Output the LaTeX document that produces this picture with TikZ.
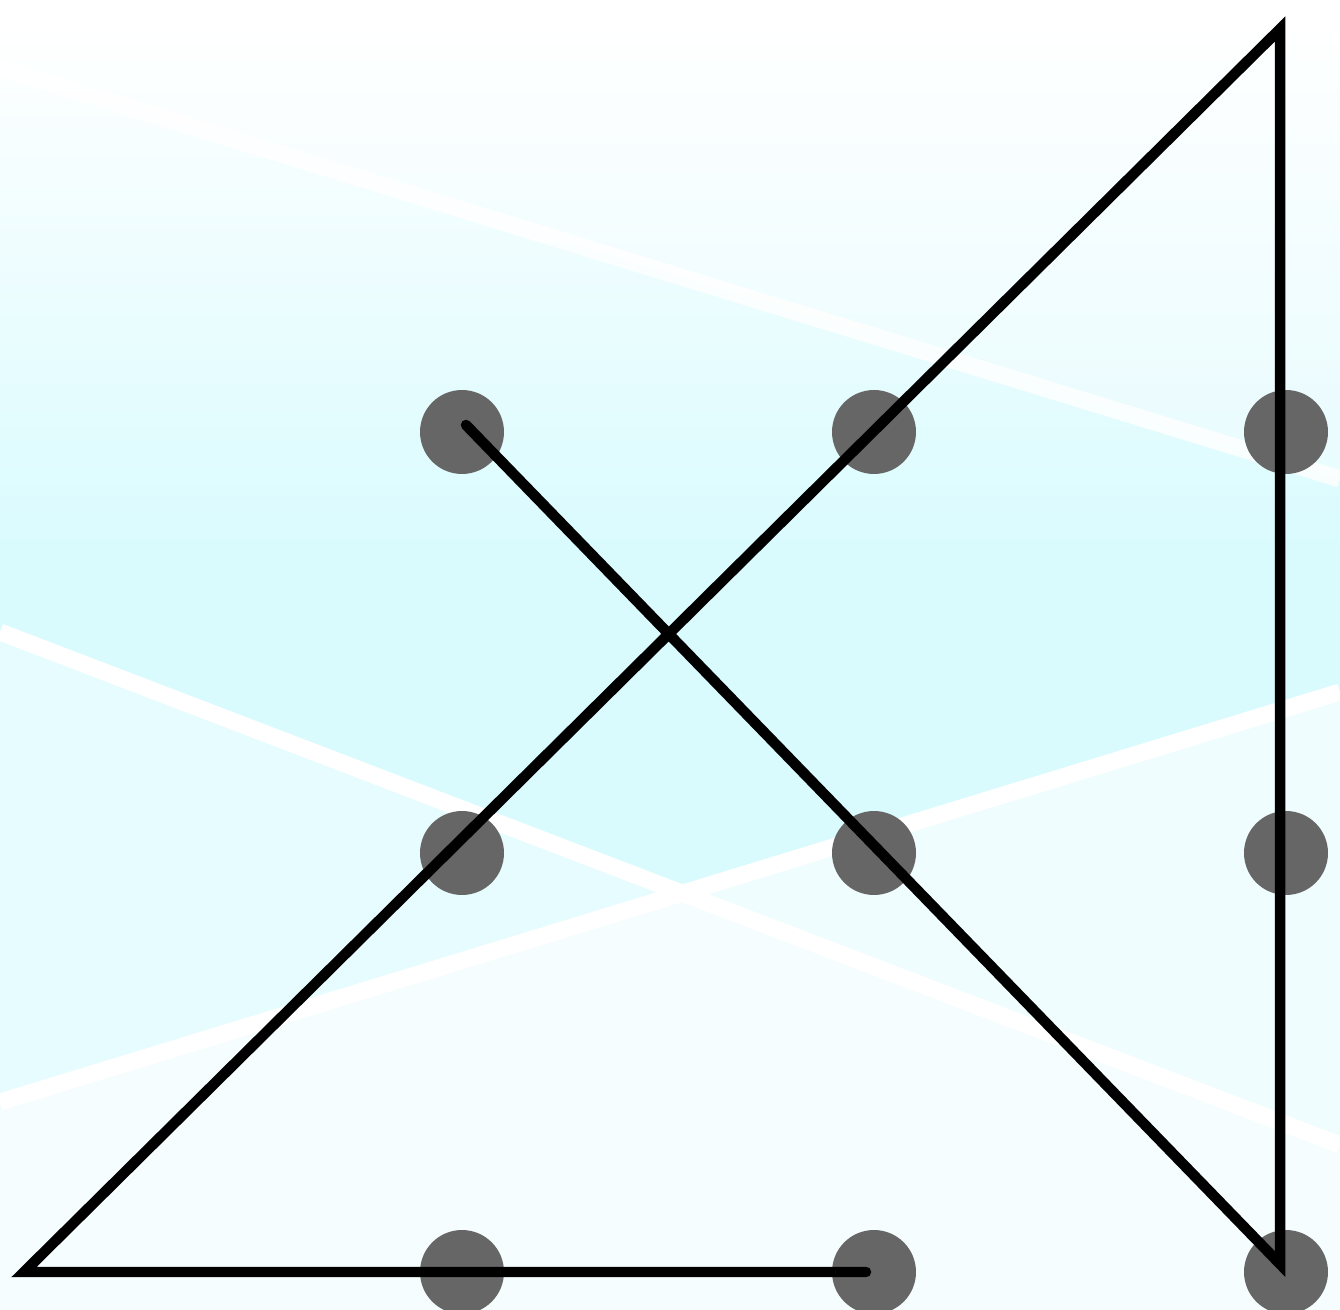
\documentclass[tikz,border=0pt]{standalone}
\begin{document}
\begin{tikzpicture}[x=0.02cm,y=-0.02cm,
  dot/.style={circle,fill=dotgrey,inner sep=0pt,minimum size=1.68cm},
  streak/.style={white,line width=0.34cm},
  puzzleline/.style={black,line width=0.21cm,line join=miter,line cap=round}]
\definecolor{dotgrey}{HTML}{666666}
\definecolor{cyanA}{HTML}{D9FBFE}
\useasboundingbox (0,0) rectangle (1340,1310);
\clip (0,0) rectangle (1340,1310);
% background
\fill[cyanA] (0,0) rectangle (1340,1310);
\fill[white] (0,0) rectangle (1340,25);
\shade[top color=white,bottom color=cyanA] (0,24) rectangle (1340,560);
\fill[white,opacity=0.3] (0,0) -- (0,68) -- (1340,479) -- (1340,0) -- cycle;
\fill[white,opacity=0.35] (0,632) -- (1340,1145) -- (1340,1310) -- (0,1310) -- cycle;
\fill[white,opacity=0.6] (0,1102) -- (1340,692) -- (1340,1310) -- (0,1310) -- cycle;
\draw[streak,opacity=0.8] (0,68) -- (1340,479);
\draw[streak] (0,632) -- (1340,1145);
\draw[streak] (0,1102) -- (1340,692);
% dots
\foreach \i/\x in {1/462,2/874,3/1286}{
  \foreach \j/\y in {1/432,2/853,3/1272}{
    \node[dot] (d\i\j) at (\x,\y) {};
  }
}
% path
\coordinate (A) at (466,425);
\coordinate (B) at (1280,1264);
\coordinate (C) at (1280,29);
\coordinate (D) at (24,1272);
\coordinate (E) at (866,1272);
\draw[puzzleline] (A) -- (B) -- (C) -- (D) -- (E);
\end{tikzpicture}
\end{document}
